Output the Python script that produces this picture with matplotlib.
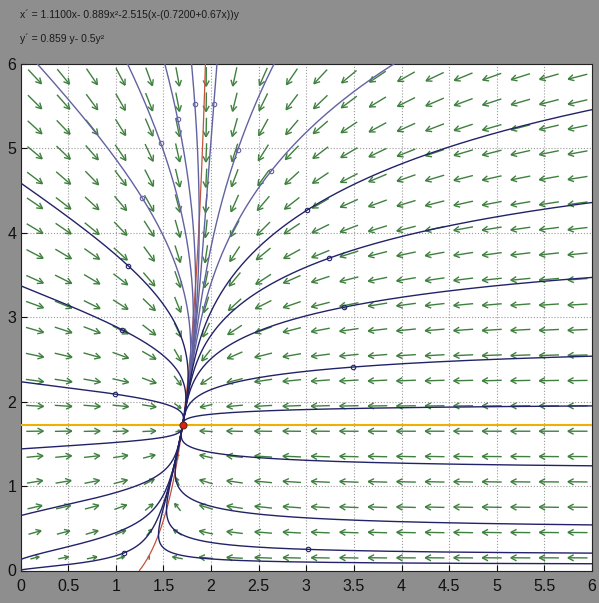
import numpy as np
import matplotlib
matplotlib.use("Agg")
import matplotlib.pyplot as plt
from matplotlib import font_manager
from matplotlib.collections import LineCollection

# model, as printed above the window
A1, A2, A3, A4, A5 = 1.11, 0.889, 2.515, 0.72, 0.67
B1, B2 = 0.859, 0.5

# solutions started inside the window (small circle at the start)
MARKED_X = [1.28, 1.47, 1.65, 1.83, 2.03, 2.28, 2.63, 3.01, 1.13, 1.07, 0.99,
            3.24, 3.40, 3.49, 1.09, 3.02]
MARKED_Y = [4.41, 5.07, 5.35, 5.53, 5.53, 4.98, 4.73, 4.27, 3.61, 2.85, 2.09,
            3.70, 3.12, 2.41, 0.21, 0.25]
# solutions started on the window edge
EDGE_X = [0, 0, 0, 6, 6, 6, 6]
EDGE_Y = [1.44, 0.65, 0.13, 1.95, 1.24, 0.54, 0.08]

X_TICKS = [0, 0.5, 1, 1.5, 2, 2.5, 3, 3.5, 4, 4.5, 5, 5.5, 6]
X_LABELS = ["0", "0.5", "1", "1.5", "2", "2.5", "3", "3.5", "4", "4.5", "5", "5.5", "6"]
Y_TICKS = [0, 1, 2, 3, 4, 5, 6]
Y_LABELS = ["0", "1", "2", "3", "4", "5", "6"]
FIELD_GRID = np.arange(20) * 0.3 + 0.15

XLIM = (0, 6)
YLIM = (0, 6)

BG = "#8e8e8e"
ARROW_COLOR = "#3f803f"
DARK_TRAJ = "#222268"
LIGHT_TRAJ = "#6262a0"
X_NULL_COLOR = "#c4523c"
Y_NULL_COLOR = "#f0b000"

W_PX, H_PX = 599, 603
AX_LEFT, AX_RIGHT, AX_TOP, AX_BOTTOM = 20.5, 592, 64, 570.5

names = {f.name for f in font_manager.fontManager.ttflist}
NARROW = "Liberation Sans Narrow" if "Liberation Sans Narrow" in names else "Liberation Sans"
plt.rcParams["font.family"] = [NARROW, "DejaVu Sans"]


def field(x, y):
    dx = A1 * x - A2 * x ** 2 - A3 * (x - (A4 + A5 * x)) * y
    dy = B1 * y - B2 * y ** 2
    return dx, dy


def integrate(x0, y0, sign, dt=0.0015, nsteps=9000):
    p = np.column_stack([x0, y0]).astype(float)
    out = np.full((nsteps + 1, len(p), 2), np.nan)
    out[0] = p
    alive = np.ones(len(p), bool)

    def f(q):
        u, v = field(q[:, 0], q[:, 1])
        return sign * np.column_stack([u, v])

    for i in range(nsteps):
        k1 = f(p)
        k2 = f(p + 0.5 * dt * k1)
        k3 = f(p + 0.5 * dt * k2)
        k4 = f(p + dt * k3)
        pn = p + dt / 6 * (k1 + 2 * k2 + 2 * k3 + k4)
        out[i + 1][alive] = pn[alive]
        inside = ((pn[:, 0] > -0.1) & (pn[:, 0] < 6.1)
                  & (pn[:, 1] > -0.1) & (pn[:, 1] < 6.2))
        alive = alive & inside
        p = np.where(alive[:, None], pn, p)
        if not alive.any():
            break
    return out


fig = plt.figure(figsize=(W_PX / 100, H_PX / 100), dpi=100, facecolor=BG)
ax = fig.add_axes([AX_LEFT / W_PX, 1 - AX_BOTTOM / H_PX,
                   (AX_RIGHT - AX_LEFT) / W_PX, (AX_BOTTOM - AX_TOP) / H_PX])
ax.set_facecolor("white")
ax.set_xlim(*XLIM)
ax.set_ylim(*YLIM)

# direction field: open-headed arrows, length grows with speed
px_x = (AX_RIGHT - AX_LEFT) / (XLIM[1] - XLIM[0])
px_y = (AX_BOTTOM - AX_TOP) / (YLIM[1] - YLIM[0])
GX, GY = np.meshgrid(FIELD_GRID, FIELD_GRID)
U, V = field(GX, GY)
speed = np.hypot(U, V)
pu, pv = U * px_x, V * px_y
pn = np.hypot(pu, pv)
ux, uy = pu / pn, pv / pn
length = 20 * speed / (speed + 0.5)
head = np.minimum(6.5, 0.45 * length)
segs = []
ang = np.deg2rad(28)
for cx, cy, a, b, L, h in zip(GX.ravel(), GY.ravel(), ux.ravel(), uy.ravel(),
                              length.ravel(), head.ravel()):
    tx, ty = cx + 0.5 * L * a / px_x, cy + 0.5 * L * b / px_y
    sx, sy = cx - 0.5 * L * a / px_x, cy - 0.5 * L * b / px_y
    segs.append([(sx, sy), (tx, ty)])
    for s in (ang, -ang):
        ca, sa = np.cos(s), np.sin(s)
        bx = -(a * ca - b * sa)
        by = -(a * sa + b * ca)
        segs.append([(tx, ty), (tx + h * bx / px_x, ty + h * by / px_y)])
ax.add_collection(LineCollection(segs, colors=ARROW_COLOR, linewidths=1.0, zorder=2))

ax.grid(True, linestyle=":", color="#9a9a9a", linewidth=0.8)
ax.set_axisbelow(True)

# nullclines
y_null = B1 / B2
ax.plot(XLIM, [y_null, y_null], color=Y_NULL_COLOR, lw=1.5, zorder=3)
x0_null = A1 / A2
x_pole = A4 / (1 - A5)
xs = np.linspace(x0_null, x_pole - 1e-4, 2000)
ys = (A1 * xs - A2 * xs ** 2) / (A3 * (xs - (A4 + A5 * xs)))
keep = ys <= 6.5
ax.plot(xs[keep], ys[keep], color=X_NULL_COLOR, lw=0.9, zorder=3)

# solutions
sx0 = np.array(MARKED_X + EDGE_X, float)
sy0 = np.array(MARKED_Y + EDGE_Y, float)
fwd = integrate(sx0, sy0, 1)
bwd = integrate(sx0, sy0, -1)
n_marked = len(MARKED_X)
for k in range(len(sx0)):
    back = bwd[:, k][::-1]
    path = np.vstack([back, fwd[1:, k]])
    path = path[~np.isnan(path[:, 0])]
    col = LIGHT_TRAJ if sy0[k] > 4.4 else DARK_TRAJ
    ax.plot(path[:, 0], path[:, 1], color=col, lw=1.0, zorder=4)
    if k < n_marked:
        ax.plot(sx0[k], sy0[k], "o", ms=3.2, mfc="none", mec=col, mew=0.8, zorder=5)

# equilibrium on the y-nullcline
xe = np.roots([-A2, A1 - A3 * (1 - A5) * y_null, A3 * A4 * y_null])
xe = xe[(xe > 0) & (xe < 6)][0]
ax.plot(xe, y_null, "o", ms=5, mfc="#e02010", mec="#702010", mew=0.8, zorder=6)

ax.set_xticks(X_TICKS)
ax.set_xticklabels(X_LABELS)
ax.set_yticks(Y_TICKS)
ax.set_yticklabels(Y_LABELS)
ax.tick_params(direction="in", length=4, width=0.8, labelsize=11.5,
               colors="#111111")
ax.tick_params(axis="x", pad=6)
ax.tick_params(axis="y", pad=3)
for sp in ax.spines.values():
    sp.set_color("#222222")
    sp.set_linewidth(0.8)

fig.text(20 / W_PX, 1 - 15 / H_PX,
         "x\u00b4 = 1.1100x- 0.889x\u00b2-2.515(x-(0.7200+0.67x))y",
         fontsize=7.5, color="#1a1a1a", va="center", ha="left")
fig.text(20 / W_PX, 1 - 39 / H_PX, "y\u00b4 = 0.859 y- 0.5y\u00b2",
         fontsize=7.5, color="#1a1a1a", va="center", ha="left")

fig.savefig("out.png", dpi=100, facecolor=BG)
